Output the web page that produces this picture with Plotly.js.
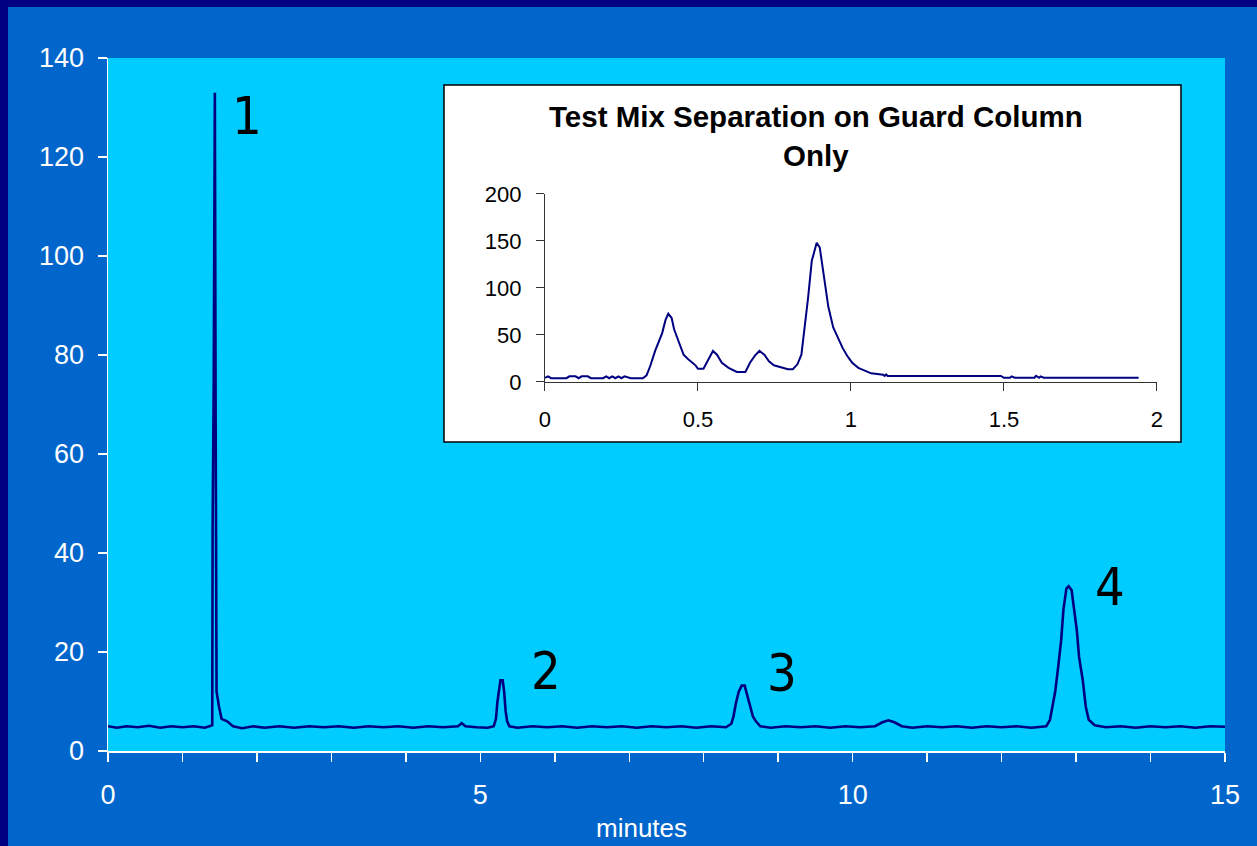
<!DOCTYPE html>
<html>
<head>
<meta charset="utf-8">
<script src="https://cdn.plot.ly/plotly-3.0.1.min.js"></script>
<style>
  html, body { margin:0; padding:0; background:#000080; width:1257px; height:846px; overflow:hidden; }
  #chart { position:absolute; left:8px; top:7px; width:1249px; height:839px; }
</style>
</head>
<body>
<div id="chart"></div>
<script>
// ---- Main chromatogram (minutes vs signal) ----
var mainTime = [0.00,0.12,0.25,0.40,0.55,0.70,0.85,1.00,1.15,1.30,1.40,1.405,1.42,1.435,1.445,1.458,1.49,1.525,1.60,1.68,1.80,1.95,2.10,2.30,2.50,2.70,2.90,3.10,3.30,3.50,3.70,3.90,4.10,4.30,4.50,4.70,4.75,4.80,4.95,5.10,5.18,5.21,5.23,5.25,5.27,5.30,5.32,5.34,5.36,5.39,5.50,5.70,5.90,6.10,6.30,6.50,6.70,6.90,7.10,7.30,7.50,7.70,7.90,8.10,8.30,8.37,8.40,8.43,8.47,8.51,8.55,8.58,8.62,8.66,8.70,8.76,8.90,9.10,9.30,9.50,9.70,9.90,10.10,10.30,10.40,10.48,10.56,10.66,10.80,11.00,11.20,11.40,11.60,11.80,12.00,12.20,12.40,12.60,12.65,12.69,12.72,12.76,12.80,12.83,12.87,12.90,12.94,12.97,13.01,13.04,13.09,13.13,13.17,13.25,13.40,13.60,13.80,14.00,14.20,14.40,14.60,14.80,15.00];
var mainSignal = [5.0,4.7,5.0,4.8,5.1,4.7,5.0,4.8,5.0,4.7,5.2,45,75,133,70,12,9,6.5,6.0,5.0,4.6,5.0,4.7,5.0,4.7,5.0,4.8,5.0,4.7,5.0,4.8,5.0,4.7,5.0,4.8,5.0,5.6,5.0,4.8,4.7,5.0,6.5,10,12.5,14.3,14.3,12,8,6,5,4.7,5.0,4.8,5.0,4.7,5.0,4.8,5.0,4.7,5.0,4.8,5.0,4.7,5.0,4.8,5.5,7,9.5,12,13.2,13.2,11.5,9,7,6,5,4.7,5.0,4.8,5.0,4.7,5.0,4.8,5.0,5.8,6.2,5.8,5.0,4.7,5.0,4.8,5.0,4.7,5.0,4.8,5.0,4.7,5.0,6.3,9.7,12,17,22.4,28.5,32.8,33.3,32.5,29,24.4,19,14.3,9,6.3,5.2,4.8,5.0,4.7,5.0,4.8,5.0,4.7,5.0,4.9];

// ---- Inset: Test Mix Separation on Guard Column Only ----
var insetTime = [0.00,0.01,0.02,0.07,0.08,0.10,0.11,0.12,0.14,0.15,0.19,0.20,0.21,0.22,0.23,0.24,0.25,0.26,0.28,0.32,0.332,0.344,0.36,0.372,0.383,0.394,0.403,0.414,0.422,0.438,0.453,0.469,0.492,0.50,0.518,0.531,0.549,0.562,0.578,0.60,0.627,0.655,0.67,0.686,0.701,0.717,0.732,0.748,0.771,0.794,0.81,0.825,0.838,0.849,0.86,0.872,0.888,0.898,0.911,0.926,0.942,0.957,0.973,0.988,1.004,1.024,1.043,1.066,1.105,1.11,1.115,1.12,1.49,1.50,1.52,1.525,1.535,1.60,1.605,1.615,1.62,1.63,1.94];
var insetSignal = [4.5,6,4,4,6,6,4,6,6,4,4,6,4,6,4,6,4,6,4,4,7,17,33,42,52,66,72.6,68,56,42,29,24,17.7,14,14,22,33,29,20.5,15,10.6,10.6,20.5,28,33,29,22,17.7,16,13.5,13.5,18.8,29,58,90,129,148,143,116,80,58,47,36,27.6,20.5,15,12.7,9.2,7.8,6.5,8,6.4,6.4,4.5,4.5,6,4.5,4.5,6.5,4.5,6,4.5,4.5];

// ---- Tick labels ----
var mainXTickVals = [0,5,10,15];
var mainXTickText = ['0','5','10','15'];
var mainXMinorVals = [1,2,3,4,6,7,8,9,11,12,13,14];
var mainYTickVals = [0,20,40,60,80,100,120,140];
var mainYTickText = ['0','20','40','60','80','100','120','140'];
var insetXTickVals = [0,0.5,1,1.5,2];
var insetXTickText = ['0','0.5','1','1.5','2'];
var insetYTickVals = [0,50,100,150,200];
var insetYTickText = ['0','50','100','150','200'];

// ---- Peak labels ----
var peakLabels = ['1','2','3','4'];
var peakLabelX = [1.87,5.88,9.05,13.45];
var peakLabelY = [128.3,16.2,15.8,33.2];

var insetTitleLines = ['Test Mix Separation on Guard Column','Only'];
var xTitle = 'minutes';

var F = "'Liberation Sans', Arial, Helvetica, sans-serif";
var NARROW = "'Liberation Sans Narrow', 'Arial Narrow', 'DejaVu Sans Condensed', sans-serif";

var traces = [
  {x: mainTime, y: mainSignal, xaxis:'x', yaxis:'y', type:'scatter', mode:'lines',
   line:{color:'#000080', width:2.6}, hoverinfo:'skip'},
  {x: insetTime, y: insetSignal, xaxis:'x2', yaxis:'y2', type:'scatter', mode:'lines',
   line:{color:'#000080', width:2}, hoverinfo:'skip'}
];

var annotations = [];
for (var i = 0; i < peakLabels.length; i++) {
  annotations.push({text: peakLabels[i], x: peakLabelX[i], y: peakLabelY[i], xref:'x', yref:'y',
    showarrow:false, xanchor:'center', yanchor:'middle',
    font:{family:NARROW, size:52, color:'#000000'}});
}
annotations.push({text: insetTitleLines[0], x:0.6338, y:0.9163, xref:'paper', yref:'paper',
  showarrow:false, xanchor:'center', yanchor:'middle',
  font:{family:F, size:29.5, color:'#000000', weight:'bold'}});
annotations.push({text: insetTitleLines[1], x:0.6338, y:0.8586, xref:'paper', yref:'paper',
  showarrow:false, xanchor:'center', yanchor:'middle',
  font:{family:F, size:29.5, color:'#000000', weight:'bold'}});
// x-axis title (offset left of axis centre, as in the original)
annotations.push({text: xTitle, x:0.478, y:-0.1111, xref:'paper', yref:'paper',
  showarrow:false, xanchor:'center', yanchor:'middle',
  font:{family:F, size:26, color:'#FFFFFF'}});

var layout = {
  width:1249, height:839,
  margin:{l:100, r:32, t:51, b:95, pad:0},
  paper_bgcolor:'#0066CC',
  plot_bgcolor:'rgba(0,0,0,0)',
  showlegend:false,
  xaxis:{
    domain:[0,1], range:[0,15], tickmode:'array', tickvals:mainXTickVals, ticktext:mainXTickText,
    ticks:'outside', ticklen:9, tickwidth:1.5, tickcolor:'#FFFFFF',
    minor:{tickmode:'array', tickvals:mainXMinorVals, ticks:'outside', ticklen:9, tickwidth:1.5, tickcolor:'#FFFFFF', showgrid:false},
    showline:true, linecolor:'#FFFFFF', linewidth:2, showgrid:false, zeroline:false,
    tickfont:{family:F, size:27, color:'#FFFFFF'}, ticklabelstandoff:10,
    automargin:false, fixedrange:true
  },
  yaxis:{
    domain:[0,1], range:[0,140], tickmode:'array', tickvals:mainYTickVals, ticktext:mainYTickText,
    ticks:'outside', ticklen:9, tickwidth:1.5, tickcolor:'#FFFFFF',
    showline:true, linecolor:'#FFFFFF', linewidth:1.5, showgrid:false, zeroline:false,
    tickfont:{family:F, size:27, color:'#FFFFFF'}, ticklabelstandoff:8,
    automargin:false, fixedrange:true
  },
  xaxis2:{
    domain:[0.3912,0.9391], anchor:'y2', range:[0,2], tickmode:'array', tickvals:insetXTickVals, ticktext:insetXTickText,
    ticks:'outside', ticklen:8, tickwidth:1, tickcolor:'#333333',
    showline:true, linecolor:'#333333', linewidth:1, showgrid:false, zeroline:false,
    tickfont:{family:F, size:22, color:'#000000'}, ticklabelstandoff:10,
    automargin:false, fixedrange:true
  },
  yaxis2:{
    domain:[0.5325,0.8038], anchor:'x2', range:[0,200], tickmode:'array', tickvals:insetYTickVals, ticktext:insetYTickText,
    ticks:'outside', ticklen:8, tickwidth:1, tickcolor:'#333333',
    showline:true, linecolor:'#333333', linewidth:1, showgrid:false, zeroline:false,
    tickfont:{family:F, size:22, color:'#000000'}, ticklabelstandoff:10,
    automargin:false, fixedrange:true
  },
  shapes:[
    {type:'rect', xref:'paper', yref:'paper', x0:0, x1:1, y0:0, y1:1,
     fillcolor:'#00CCFF', line:{width:0}, layer:'below'},
    {type:'rect', xref:'paper', yref:'paper', x0:0.3008, x1:0.9606, y0:0.4459, y1:0.9610,
     fillcolor:'#FFFFFF', line:{color:'#000000', width:1.5}, layer:'below'}
  ],
  annotations: annotations
};

Plotly.newPlot('chart', traces, layout, {staticPlot:true, displayModeBar:false});
</script>
</body>
</html>
